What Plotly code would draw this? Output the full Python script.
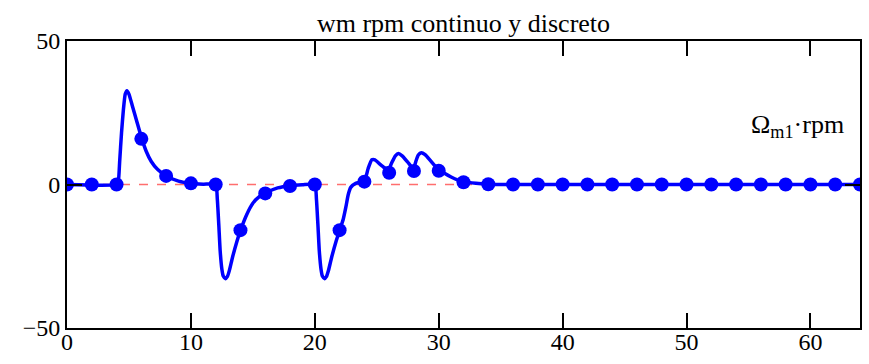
import plotly.graph_objects as go

# continuous curve (hand-read key points)
t_cont = [0, 4.0, 4.14, 4.25, 4.4, 4.55, 4.7, 4.84, 5.0, 5.3, 5.6, 6.0, 6.4, 6.8, 7.3, 8.0, 9.0, 10.0, 11.0, 12.0,
          12.13, 12.25, 12.36, 12.5, 12.62, 12.78, 12.95, 13.1, 13.35, 13.7, 14.0, 14.5, 15.0, 15.5, 16.0, 17.0, 18.0, 19.0, 20.0,
          20.13, 20.25, 20.36, 20.5, 20.62, 20.78, 20.95, 21.1, 21.35, 21.7, 22.0, 22.3, 22.5, 22.7, 22.9, 23.3, 24.0,
          24.3, 24.6, 24.85, 25.2, 25.6, 25.95, 26.2, 26.5, 26.75, 27.05, 27.5, 27.95, 28.15, 28.35, 28.6,
          28.9, 29.3, 29.7, 30.0, 30.5, 31.0, 31.5, 32.0, 33.0, 34.0, 35.0, 64.0]
w_cont = [0, 0, 1, 8, 18, 26, 31.5, 32.7, 31.5, 27, 22.5, 16.5, 11.5, 8.0, 5.3, 3.0, 1.2, 0.4, 0.1, 0,
          -5, -14, -23, -29.5, -32, -32.8, -32, -30, -25.5, -20, -16, -10.5, -6.5, -4.3, -3.0, -1.2, -0.4, -0.1, 0,
          -5, -14, -23, -29.5, -32, -32.8, -32, -30, -25.5, -20, -16, -12, -8, -3.5, -1.0, 0.4, 1.2,
          5.5, 8.6, 8.6, 7.3, 5.9, 5.1, 7.5, 10.0, 10.8, 10.0, 7.8, 5.5, 8.0, 10.3, 11.1,
          10.4, 8.5, 6.5, 5.2, 3.8, 2.6, 1.6, 1.0, 0.4, 0.1, 0, 0]

# discrete samples every 2 s
t_disc = list(range(0, 65, 2))
w_disc = [0, 0, 0, 15.9, 3.0, 0.4, 0, -15.9, -3.1, -0.5, 0, -15.9, 1.0, 4.1, 4.7, 4.8, 0.8, 0.1,
          0, 0, 0, 0, 0, 0, 0, 0, 0, 0, 0, 0, 0, 0, 0]

x_ticks = [0, 10, 20, 30, 40, 50, 60]
y_ticks = [-50, 0, 50]

W, H = 869, 364
L, R, T, B = 67, 9, 41, 36

fig = go.Figure()
fig.add_trace(go.Scatter(x=[0, 64], y=[0, 0], mode="lines",
                         line=dict(color="rgb(255,110,110)", width=1.5, dash="dash"),
                         showlegend=False, hoverinfo="skip"))
fig.add_trace(go.Scatter(x=t_cont, y=w_cont, mode="lines",
                         line=dict(color="rgb(0,0,255)", width=3.5, shape="spline", smoothing=0.5),
                         showlegend=False))
fig.add_trace(go.Scatter(x=t_disc, y=w_disc, mode="markers",
                         marker=dict(color="rgb(0,0,255)", size=14),
                         showlegend=False, cliponaxis=True))

axis_common = dict(showline=True, linecolor="black", linewidth=2, mirror="ticks",
                   ticks="inside", ticklen=15, tickwidth=2, tickcolor="black",
                   showgrid=False, zeroline=False, automargin=False,
                   tickfont=dict(family="Liberation Serif", size=24, color="black"))

fig.update_layout(
    width=W, height=H,
    margin=dict(l=L, r=R, t=T, b=B, autoexpand=False),
    paper_bgcolor="white", plot_bgcolor="white",
    title=dict(text="wm rpm continuo y discreto", x=0.5, xref="paper", xanchor="center",
               y=1 - 23 / H, yanchor="middle", automargin=False,
               font=dict(family="Liberation Serif", size=26, color="black")),
    xaxis=dict(range=[0, 64], tickvals=x_ticks, ticklabelstandoff=-9, **axis_common),
    yaxis=dict(range=[-50, 50], tickvals=y_ticks, **axis_common),
    annotations=[dict(text="Ω<sub>m1</sub>·rpm",
                      x=(846 - L) / (W - L - R), y=1 - (126 - T) / (H - T - B),
                      xref="paper", yref="paper", xanchor="right", yanchor="middle",
                      showarrow=False,
                      font=dict(family="Liberation Serif", size=26, color="black"))],
)

fig.write_html("out.html", config={"displayModeBar": False},
               post_script="document.body.style.margin='0px';")
